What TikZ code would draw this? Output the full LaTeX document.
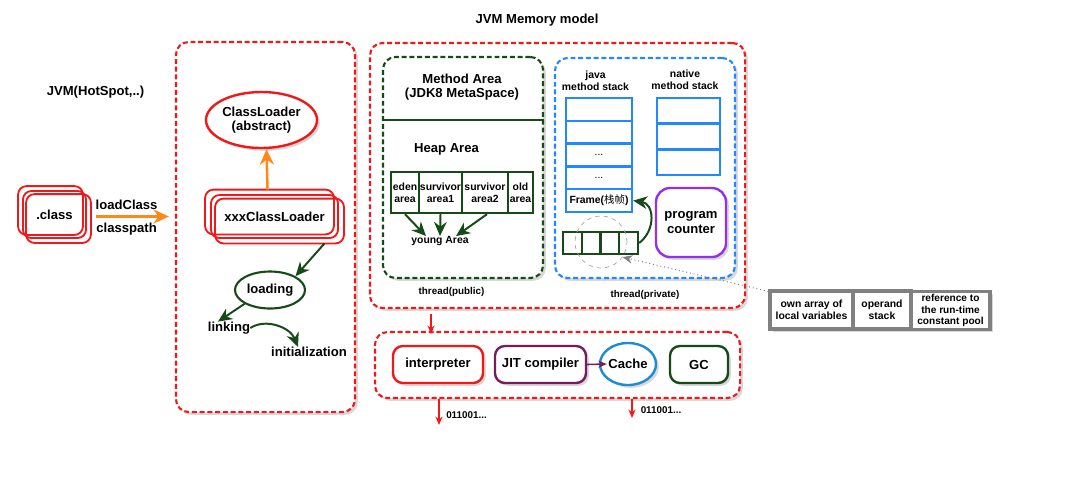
\documentclass[tikz,border=0pt]{standalone}
\usepackage{fontspec}
\setmainfont{Liberation Sans}
\newfontfamily\cjk{Noto Sans CJK SC}
\usepackage{tikz}
\usetikzlibrary{arrows.meta,backgrounds,calc,shapes.geometric,shadows}
\definecolor{jvmred}{RGB}{240,24,24}
\definecolor{jvmgreen}{RGB}{22,74,22}
\definecolor{jvmblue}{RGB}{34,136,255}
\definecolor{jvmviolet}{RGB}{150,48,230}
\definecolor{jvmplum}{RGB}{118,28,88}
\definecolor{jvmcyan}{RGB}{30,140,210}
\definecolor{jvmorange}{RGB}{255,136,24}
\definecolor{jvmgray}{RGB}{128,128,128}

\begin{document}
\begin{tikzpicture}[x=0.025cm,y=-0.025cm,
  font=\fontsize{9.3}{10.5}\selectfont\bfseries,
  every node/.style={align=center,inner sep=0pt},
  smalltext/.style={font=\fontsize{7.4}{8.6}\selectfont\bfseries},
  tinytext/.style={font=\fontsize{7}{8}\selectfont\bfseries},
  shadowed/.style={drop shadow={opacity=0.3,shadow xshift=2pt,shadow yshift=-2pt}},
  area/.style={draw=#1,dash pattern=on 3.5pt off 2pt,line width=1.5pt,rounded corners=9pt,fill=white,shadowed},
  box/.style={draw=#1,line width=1.7pt,rounded corners=7pt,fill=white,shadowed},
  oval/.style={ellipse,draw=#1,line width=1.7pt,fill=white,shadowed},
  cell/.style={rectangle,draw=#1,line width=1.7pt,fill=white},
  layerbox/.style={draw=jvmred,line width=1.3pt,rounded corners=6pt},
  oarrow/.style={draw=jvmorange,line width=1.8pt,-{Stealth[length=11pt,width=10pt]}},
  garrow/.style={draw=jvmgreen,line width=1.4pt,-{Stealth[length=10pt,width=9pt]}},
  rarrow/.style={draw=jvmred,line width=1pt,-{Stealth[length=6pt,width=5pt]}}]
\useasboundingbox (0,0) rectangle (1071,489);

\node (title) at (537,20) {JVM Memory model};
\node (vm) at (95.5,92) {JVM(HotSpot,..)};

% class loading
\node[area=jvmred,minimum width=4.475cm,minimum height=9.25cm] (loader) at (265.5,227) {};
\node[layerbox,minimum width=1.575cm,minimum height=1.175cm] (cls) at (54.5,214.5) {.class};
\foreach \d in {-4,4}
  \draw[layerbox] ([shift={(\d,\d)}]cls.north west) rectangle ([shift={(\d,\d)}]cls.south east);
\node[oval=jvmred,minimum width=2.775cm,minimum height=1.4cm] (cl) at (261.5,120) {ClassLoader\\(abstract)};
\node[layerbox,minimum width=3.175cm,minimum height=1.075cm] (xcl) at (274.5,216.5) {xxxClassLoader};
\foreach \d in {-1,1}
  \draw[layerbox] ([shift={(5*\d,4.5*\d)}]xcl.north west) rectangle ([shift={(5*\d,4.5*\d)}]xcl.south east);
\node[ellipse,draw=jvmgreen,line width=1.5pt,minimum width=1.75cm,minimum height=0.925cm] (loading) at (270,290) {loading};
\node (linking) at (229,328) {linking};
\node (init) at (309,352) {initialization};

\draw[oarrow] ([shift={(9,2)}]cls.east) -- node[pos=0.42,above=4pt]{loadClass} node[pos=0.42,below=4pt]{classpath} ($(loader.west |- cls.east)+(-6,2)$);
\draw[oarrow] ([shift={(-7,-4.5)}]xcl.north) -- ([shift={(5,0)}]cl.south);
\draw[garrow] ([shift={(50,4.5)}]xcl.south) -- (loading.north east);
\draw[garrow] (loading.south west) -- ([shift={(-11,0)}]linking.north);
\draw[garrow] (linking.east) .. controls +(15,-10) and +(-8,-20) .. ([shift={(-11,0)}]init.north);

% memory model
\node[area=jvmred,minimum width=9.375cm,minimum height=6.625cm] (mem) at (557.5,175.5) {};
\node[area=jvmgreen,minimum width=4cm,minimum height=5.525cm] (pub) at (463,167.5) {};
\node[area=jvmblue,minimum width=4.5cm,minimum height=5.5cm] (priv) at (645,168) {};
\draw[draw=jvmgreen,line width=1.5pt] (pub.west |- 0,120) -- (pub.east |- 0,120);

\node (meth) at (462,87) {Method Area\\(JDK8 MetaSpace)};
\node (heap) at (446.5,149) {Heap Area};
\node[cell=jvmgreen,smalltext,minimum width=0.7cm,minimum height=1.025cm] (eden) at (405,192.5) {eden\\area};
\node[cell=jvmgreen,smalltext,minimum width=1.075cm,minimum height=1.025cm] (sv1) at (440.5,192.5) {survivor\\area1};
\node[cell=jvmgreen,smalltext,minimum width=1.15cm,minimum height=1.025cm] (sv2) at (485,192.5) {survivor\\area2};
\node[cell=jvmgreen,smalltext,minimum width=0.625cm,minimum height=1.025cm] (old) at (520.5,192.5) {old\\area};
\node[smalltext] (young) at (440,241) {young Area};
\draw[garrow] (eden.south) -- ([shift={(-14,0)}]young.north);
\draw[garrow] (sv1.south) -- (young.north);
\draw[garrow] ([shift={(2,0)}]sv2.south) -- ([shift={(16,0)}]young.north);
\node[tinytext] (pubth) at (451.5,292) {thread(public)};

\node[smalltext] (jlab) at (595.5,81) {java\\method stack};
\node[smalltext] (nlab) at (685,80) {native\\method stack};
\foreach \i in {1,...,5}
  \node[cell=jvmblue,minimum width=1.65cm,minimum height=0.57cm] (js\i) at (599,86.6+22.8*\i) {};
\node[smalltext,font=\fontsize{7.4}{8.6}\selectfont] (dots1) at (js3) {...};
\node[smalltext,font=\fontsize{7.4}{8.6}\selectfont] (dots2) at (js4) {...};
\node[smalltext] (frame) at (js5) {Frame({\cjk\mdseries 栈帧})};
\foreach \i in {1,2,3}
  \node[cell=jvmblue,minimum width=1.575cm,minimum height=0.6417cm] (ns\i) at (688.5,85.1+25.7*\i) {};
\node[box=jvmviolet,rounded corners=10pt,minimum width=1.75cm,minimum height=1.725cm] (pc) at (691,222.5) {program\\counter};
\foreach \i in {1,...,4}
  \node[cell=jvmgreen,minimum width=0.469cm,minimum height=0.55cm] (lv\i) at (553.6+18.75*\i,243) {};
\node[circle,draw=jvmgray!70,dashed,line width=0.5pt,minimum size=1.3cm] (lens) at (601,242) {};
\draw[garrow] (lv4.east) .. controls +(17,-13) and +(21,3) .. (js5.east);
\node[tinytext] (privth) at (645,295) {thread(private)};

\node[cell=jvmgray,line width=2.2pt,shadowed,smalltext,minimum width=2.075cm,minimum height=0.95cm] (locals) at (811.5,310) {own array of\\local variables};
\node[cell=jvmgray,line width=2.2pt,shadowed,smalltext,minimum width=1.45cm,minimum height=0.95cm] (opstack) at (882,310) {operand\\stack};
\node[cell=jvmgray,line width=2.2pt,shadowed,font=\fontsize{7.2}{8.1}\selectfont\bfseries,minimum width=1.975cm,minimum height=0.95cm] (cpref) at (950.5,310.5) {reference to\\the run-time\\constant pool};
\draw[jvmgray,dotted,line width=0.7pt,-{Stealth[length=7pt,width=6pt]}] ([shift={(0,2)}]locals.north west) -- (lens.-35);

% execution engine
\node[area=jvmred,minimum width=9.125cm,minimum height=1.65cm] (exec) at (557.5,365) {};
\node[box=jvmred,minimum width=2.25cm,minimum height=0.925cm] (interp) at (438,364.5) {interpreter};
\node[box=jvmplum,minimum width=2.275cm,minimum height=0.925cm] (jit) at (540.5,364.5) {JIT compiler};
\node[oval=jvmcyan,minimum width=1.4cm,minimum height=1.05cm] (cache) at (628,364) {Cache};
\node[box=jvmgreen,minimum width=1.45cm,minimum height=0.925cm] (gc) at (699,364.5) {GC};
\draw[draw=jvmplum,line width=1.1pt,-{Stealth[length=6pt,width=5pt]}] (jit.east) -- ([shift={(8,0)}]cache.west);

\coordinate (feed) at (431,0);
\coordinate (out1) at (439,425);
\coordinate (out2) at (632,418);
\draw[rarrow] ($(mem.south -| feed)+(0,5)$) -- ($(exec.north -| feed)+(0,3)$);
\draw[rarrow] (exec.south -| out1) -- (out1);
\draw[rarrow] (exec.south -| out2) -- (out2);
\node[tinytext] (bin1) at (466.5,415) {011001...};
\node[tinytext] (bin2) at (661,410) {011001...};
\end{tikzpicture}
\end{document}
